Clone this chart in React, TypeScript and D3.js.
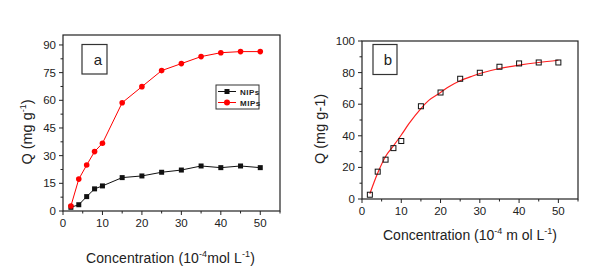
import React from "react";
import * as d3 from "d3";

const conc = [2, 4, 6, 8, 10, 15, 20, 25, 30, 35, 40, 45, 50];
const mips = [2.7, 17.3, 24.9, 32.2, 36.7, 58.7, 67.4, 76.1, 79.9, 83.7, 85.8, 86.4, 86.4];
const nips = [2.0, 3.4, 7.8, 12.0, 13.6, 18.1, 19.0, 21.0, 22.2, 24.4, 23.5, 24.4, 23.5];
const fitX = [2, 4, 6, 8, 10, 12, 15, 17, 20, 22, 25, 28, 30, 35, 40, 45, 50];
const fitY = [3.3, 16.4, 26.9, 33.6, 40.5, 47.8, 57.2, 62.4, 67.4, 70.9, 74.8, 77.7, 79.4, 82.6, 84.7, 86.4, 87.8];
const xTicks = [0, 10, 20, 30, 40, 50];
const xMinor = [5, 15, 25, 35, 45, 55];
const yTicksA = [0, 15, 30, 45, 60, 75, 90];
const yMinorA = [7.5, 22.5, 37.5, 52.5, 67.5, 82.5];
const yTicksB = [0, 20, 40, 60, 80, 100];
const yMinorB = [10, 30, 50, 70, 90];
const legendLabels = ["NIPs", "MIPs"];

const FONT = "'Liberation Sans', Arial, sans-serif";

type Box = { x0: number; x1: number; y0: number; y1: number };

function Axes({ box, x, y, yt, ym }: { box: Box; x: any; y: any; yt: number[]; ym: number[] }) {
  return (
    <g>
      <rect x={box.x0} y={box.y0} width={box.x1 - box.x0} height={box.y1 - box.y0} fill="none" stroke="#222" strokeWidth={1.2} />
      {xTicks.map((t) => (
        <g key={"xt" + t}>
          <line x1={x(t)} x2={x(t)} y1={box.y1} y2={box.y1 + 4} stroke="#222" />
          <text x={x(t)} y={box.y1 + 16} textAnchor="middle" fontSize={11.5} fill="#222">{t}</text>
        </g>
      ))}
      {xMinor.map((t) => (
        <line key={"xm" + t} x1={x(t)} x2={x(t)} y1={box.y1} y2={box.y1 + 2.5} stroke="#222" />
      ))}
      {yt.map((t) => (
        <g key={"yt" + t}>
          <line x1={box.x0 - 4} x2={box.x0} y1={y(t)} y2={y(t)} stroke="#222" />
          <text x={box.x0 - 7} y={y(t) + 4} textAnchor="end" fontSize={11.5} fill="#222">{t}</text>
        </g>
      ))}
      {ym.map((t) => (
        <line key={"ym" + t} x1={box.x0 - 2.5} x2={box.x0} y1={y(t)} y2={y(t)} stroke="#222" />
      ))}
    </g>
  );
}

export default function App() {
  const boxA: Box = { x0: 63, x1: 280, y0: 35, y1: 211 };
  const xA = d3.scaleLinear().domain([0, 55]).range([boxA.x0, boxA.x1]);
  const yA = d3.scaleLinear().domain([0, 95.4]).range([boxA.y1, boxA.y0]);

  const boxB: Box = { x0: 362, x1: 578, y0: 41, y1: 199 };
  const xB = d3.scaleLinear().domain([0, 55]).range([boxB.x0, boxB.x1]);
  const yB = d3.scaleLinear().domain([0, 100]).range([boxB.y1, boxB.y0]);

  const lineA = d3.line<number>().x((_, i) => xA(conc[i])).y((d) => yA(d));
  const fitLine = d3
    .line<number>()
    .x((_, i) => xB(fitX[i]))
    .y((d) => yB(d))
    .curve(d3.curveMonotoneX);

  return (
    <svg width={608} height={279} style={{ position: "absolute", left: 0, top: 0, background: "#fff" }} fontFamily={FONT}>
      <rect width={608} height={279} fill="#fff" />
      {/* Panel a */}
      <Axes box={boxA} x={xA} y={yA} yt={yTicksA} ym={yMinorA} />
      <path d={lineA(nips) || ""} fill="none" stroke="#111" strokeWidth={1} />
      {nips.map((v, i) => (
        <rect key={"n" + i} x={xA(conc[i]) - 2.5} y={yA(v) - 2.5} width={5} height={5} fill="#111" />
      ))}
      <path d={lineA(mips) || ""} fill="none" stroke="#ff0000" strokeWidth={1} />
      {mips.map((v, i) => (
        <circle key={"m" + i} cx={xA(conc[i])} cy={yA(v)} r={2.8} fill="#ff0000" />
      ))}
      <rect x={82} y={44.5} width={25} height={29.5} fill="#fff" stroke="#333" strokeWidth={1.2} />
      <text x={98} y={65} textAnchor="middle" fontSize={15} fill="#222">a</text>
      {/* legend */}
      <rect x={216} y={85} width={43} height={24} fill="#fff" stroke="#333" strokeWidth={1} />
      {legendLabels.map((l, i) => {
        const yy = 91.5 + i * 11;
        const col = i === 0 ? "#111" : "#ff0000";
        return (
          <g key={l}>
            <line x1={218} x2={236} y1={yy} y2={yy} stroke={col} strokeWidth={1} />
            {i === 0 ? (
              <rect x={224.5} y={yy - 2.5} width={5} height={5} fill={col} />
            ) : (
              <circle cx={227} cy={yy} r={3} fill={col} />
            )}
            <text x={240} y={yy + 3} fontSize={8} fontWeight="bold" fill="#222" letterSpacing={0.5}>{l}</text>
          </g>
        );
      })}
      <text x={86} y={263} fontSize={14} fill="#222" letterSpacing={0.1}>
        Concentration (10<tspan dy={-6} fontSize={9}>-4</tspan><tspan dy={6}>mol L</tspan><tspan dy={-6} fontSize={9}>-1</tspan><tspan dy={6}>)</tspan>
      </text>
      <text transform="translate(32,132) rotate(-90)" textAnchor="middle" fontSize={14.5} fill="#222">
        Q (mg g<tspan dy={-6} fontSize={9}>-1</tspan><tspan dy={6}>)</tspan>
      </text>

      {/* Panel b */}
      <Axes box={boxB} x={xB} y={yB} yt={yTicksB} ym={yMinorB} />
      <path d={fitLine(fitY) || ""} fill="none" stroke="#ff2020" strokeWidth={1.2} />
      {mips.map((v, i) => (
        <rect key={"b" + i} x={xB(conc[i]) - 2.5} y={yB(v) - 2.5} width={5} height={5} fill="none" stroke="#111" strokeWidth={1} />
      ))}
      <rect x={373} y={44.5} width={24} height={30} fill="#fff" stroke="#333" strokeWidth={1.2} />
      <text x={388} y={65} textAnchor="middle" fontSize={15} fill="#222">b</text>
      <text x={383} y={240} fontSize={14} fill="#222" letterSpacing={0}>
        Concentration (10<tspan dy={-6} fontSize={9}>-4</tspan><tspan dy={6}> m ol L</tspan><tspan dy={-6} fontSize={9}>-1</tspan><tspan dy={6}>)</tspan>
      </text>
      <text transform="translate(325,129) rotate(-90)" textAnchor="middle" fontSize={14.5} fill="#222">
        Q (mg g-1)
      </text>
    </svg>
  );
}
